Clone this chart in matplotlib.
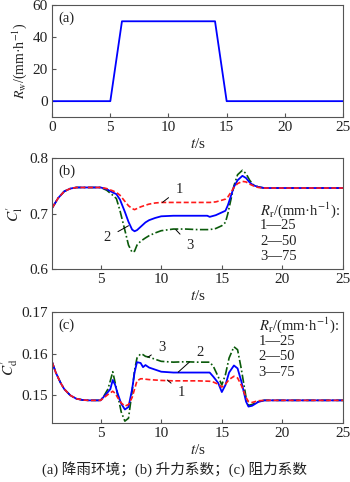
import matplotlib
matplotlib.use("Agg")
import matplotlib.pyplot as plt

#====================================
# Data

# (a) rainfall
t_a = [0, 5, 6, 14, 15, 25]
rain = [0, 0, 50, 50, 0, 0]

# (b) lift coefficient
t_b = [1, 1.5, 2, 2.5, 3, 4, 5, 5.5, 6, 6.3, 6.6, 7, 7.3, 7.6, 7.8, 8.0, 8.3, 8.7, 9, 9.5, 10,
       11, 12, 13, 13.8, 14, 14.5, 15, 15.3, 15.5, 15.8, 16, 16.3, 16.7, 17, 17.3, 17.6, 18,
       18.5, 19, 20, 25]
cl_25 = [0.71, 0.728, 0.74, 0.745, 0.747, 0.747, 0.747, 0.745, 0.741, 0.738, 0.733, 0.722, 0.714,
         0.709, 0.707, 0.709, 0.712, 0.715, 0.717, 0.719, 0.72, 0.72, 0.72, 0.72, 0.72, 0.72, 0.721,
         0.724, 0.726, 0.73, 0.74, 0.747, 0.754, 0.758, 0.757, 0.753, 0.75, 0.747, 0.746, 0.746,
         0.746, 0.746]
cl_50 = [0.71, 0.728, 0.74, 0.745, 0.747, 0.747, 0.747, 0.744, 0.738, 0.735, 0.725, 0.703, 0.685,
         0.671, 0.668, 0.670, 0.676, 0.684, 0.688, 0.692, 0.695, 0.696, 0.696, 0.696, 0.696, 0.694,
         0.697, 0.702, 0.705, 0.715, 0.735, 0.748, 0.76, 0.768, 0.764, 0.756, 0.751, 0.748, 0.746,
         0.746, 0.746, 0.746]
cl_75 = [0.71, 0.728, 0.74, 0.745, 0.747, 0.747, 0.747, 0.742, 0.733, 0.727, 0.705, 0.67, 0.643,
         0.63, 0.632, 0.643, 0.65, 0.656, 0.66, 0.665, 0.669, 0.672, 0.672, 0.671, 0.671, 0.671,
         0.673, 0.678, 0.684, 0.7, 0.73, 0.75, 0.77, 0.778, 0.772, 0.76, 0.752, 0.748, 0.746,
         0.746, 0.746, 0.746]

# (c) drag coefficient
t_c = [1, 1.3, 1.7, 2, 2.5, 3, 3.5, 4, 5, 5.3, 5.6, 5.8, 6, 6.2, 6.4, 6.7, 7, 7.3, 7.6, 7.8, 8,
       8.3, 8.5, 8.7, 9, 9.5, 10, 11, 12, 13, 14, 14.3, 14.7, 15, 15.3, 15.6, 16, 16.3, 16.6, 17,
       17.2, 17.5, 18, 18.5, 20, 25]
cd_25 = [0.158, 0.1555, 0.153, 0.1515, 0.150, 0.1492, 0.1489, 0.1488, 0.1488, 0.1495, 0.1502,
         0.1506, 0.151, 0.1505, 0.1495, 0.1482, 0.1474, 0.1478, 0.1495, 0.1515, 0.1535, 0.154,
         0.154, 0.1539, 0.1538, 0.1537, 0.1536, 0.1535, 0.1535, 0.1535, 0.1534, 0.1532, 0.1527,
         0.152, 0.1527, 0.1538, 0.1546, 0.1542, 0.1525, 0.1495, 0.1485, 0.1483, 0.1487, 0.1488,
         0.1488, 0.1488]
cd_50 = [0.158, 0.1555, 0.153, 0.1515, 0.150, 0.1492, 0.1489, 0.1488, 0.1488, 0.1498, 0.1508,
         0.1515, 0.1537, 0.1525, 0.1505, 0.148, 0.1466, 0.1472, 0.1515, 0.1555, 0.158, 0.1578,
         0.1568, 0.1573, 0.1567, 0.1562, 0.1557, 0.1555, 0.1555, 0.1555, 0.1555, 0.1545, 0.153,
         0.1508, 0.1525, 0.1555, 0.1572, 0.1565, 0.1535, 0.1485, 0.1473, 0.1475, 0.1484, 0.1488,
         0.1488, 0.1488]
cd_75 = [0.158, 0.1555, 0.153, 0.1515, 0.150, 0.1492, 0.1489, 0.1488, 0.1488, 0.15, 0.1515,
         0.1535, 0.1557, 0.153, 0.1502, 0.146, 0.1438, 0.1445, 0.151, 0.156, 0.159, 0.160, 0.1598,
         0.1594, 0.1592, 0.1587, 0.1582, 0.158, 0.1581, 0.158, 0.158, 0.157, 0.1545, 0.1525,
         0.155, 0.159, 0.1617, 0.161, 0.1565, 0.1495, 0.1476, 0.1478, 0.1485, 0.1488, 0.1488,
         0.1488]

legend_lines = ["1\u201425", "2\u201450", "3\u201475"]
caption = "(a) 降雨环境；(b) 升力系数；(c) 阻力系数"

#====================================
# Style

plt.rcParams['font.family'] = ['Liberation Serif', 'Noto Sans CJK SC']
plt.rcParams['mathtext.fontset'] = 'stix'
plt.rcParams['font.size'] = 11

RED, BLUE, GREEN = '#ff1a1a', '#0000ff', '#0a5a0a'
FS = 11
LFS = 10.5
TXT = '#222222'


def style_ax(ax):
    ax.tick_params(direction='in', length=3, width=0.8, pad=3, labelsize=FS,
                   colors='#555555', labelcolor=TXT)
    for s in ax.spines.values():
        s.set_linewidth(0.8)
        s.set_color('#555555')


def note(ax, label, xy, xytext):
    ax.annotate(label, xy=xy, xytext=xytext, fontsize=LFS, ha='center', va='center', color=TXT,
                arrowprops=dict(arrowstyle='-', lw=0.7, color='k', shrinkA=4, shrinkB=0))


fig = plt.figure(figsize=(3.5, 4.82), dpi=100)

# (a)
ax1 = fig.add_axes([0.149, 0.757, 0.831, 0.232])
ax1.plot(t_a, rain, color=BLUE, lw=1.3)
ax1.set_xlim(0, 25)
ax1.set_ylim(-10, 60)
ax1.set_yticks([0, 20, 40, 60])
ax1.set_xticks([0, 5, 10, 15, 20, 25])
ax1.set_xlabel('$t$/s', fontsize=FS, labelpad=2, color=TXT)
ax1.set_ylabel('$R_\\mathrm{w}$/(mm·h$^{-1}$)', fontsize=10, labelpad=3, color=TXT)
ax1.text(0.02, 0.94, '(a)', transform=ax1.transAxes, va='top', fontsize=LFS, color=TXT)
style_ax(ax1)

# (b)
ax2 = fig.add_axes([0.149, 0.442, 0.831, 0.230])
ax2.plot(t_b, cl_75, color=GREEN, lw=1.2, ls=(0, (5, 1.5, 1, 1.5)))
ax2.plot(t_b, cl_50, color=BLUE, lw=1.3)
ax2.plot(t_b, cl_25, color=RED, lw=1.2, ls=(0, (3, 1.5)))
ax2.set_xlim(1, 25)
ax2.set_ylim(0.6, 0.8)
ax2.set_yticks([0.6, 0.7, 0.8])
ax2.set_xticks([5, 10, 15, 20, 25])
ax2.set_xlabel('$t$/s', fontsize=FS, labelpad=2, color=TXT)
ax2.set_ylabel("$C_\\mathrm{l}^{\\prime}$", fontsize=FS, labelpad=3, color=TXT)
ax2.text(0.02, 0.94, '(b)', transform=ax2.transAxes, va='top', fontsize=LFS, color=TXT)
note(ax2, '1', (10.1, 0.72), (11.5, 0.744))
note(ax2, '2', (7.3, 0.678), (5.5, 0.656))
note(ax2, '3', (11.2, 0.671), (12.4, 0.643))
ax2.text(0.715, 0.53, '$R_\\mathrm{r}$/(mm·h$^{-1}$):', transform=ax2.transAxes, fontsize=LFS,
         va='center', color=TXT)
for k, s in enumerate(legend_lines):
    ax2.text(0.715, 0.39 - k * 0.14, s, transform=ax2.transAxes, fontsize=LFS, va='center',
             color=TXT)
style_ax(ax2)

# (c)
ax3 = fig.add_axes([0.149, 0.122, 0.831, 0.230])
ax3.plot(t_c, cd_75, color=GREEN, lw=1.2, ls=(0, (5, 1.5, 1, 1.5)))
ax3.plot(t_c, cd_50, color=BLUE, lw=1.3)
ax3.plot(t_c, cd_25, color=RED, lw=1.2, ls=(0, (3, 1.5)))
ax3.set_xlim(1, 25)
ax3.set_ylim(0.1433, 0.17)
ax3.set_yticks([0.15, 0.16, 0.17])
ax3.set_xticks([5, 10, 15, 20, 25])
ax3.set_xlabel('$t$/s', fontsize=FS, labelpad=2, color=TXT)
ax3.set_ylabel("$C_\\mathrm{d}^{\\prime}$", fontsize=FS, labelpad=1, color=TXT)
ax3.text(0.02, 0.94, '(c)', transform=ax3.transAxes, va='top', fontsize=LFS, color=TXT)
note(ax3, '3', (8.9, 0.1592), (10.1, 0.1615))
note(ax3, '2', (11.4, 0.1556), (13.2, 0.1603))
note(ax3, '1', (10.5, 0.1537), (11.7, 0.1508))
ax3.text(0.71, 0.88, '$R_\\mathrm{r}$/(mm·h$^{-1}$):', transform=ax3.transAxes, fontsize=LFS,
         va='center', color=TXT)
for k, s in enumerate(legend_lines):
    ax3.text(0.71, 0.74 - k * 0.14, s, transform=ax3.transAxes, fontsize=LFS, va='center',
             color=TXT)
style_ax(ax3)

fig.text(0.5, 0.027, caption, ha='center', va='center', fontsize=10.5, color=TXT,
         family=['Liberation Serif', 'Noto Sans CJK SC'])

fig.savefig('out.png', dpi=100)
